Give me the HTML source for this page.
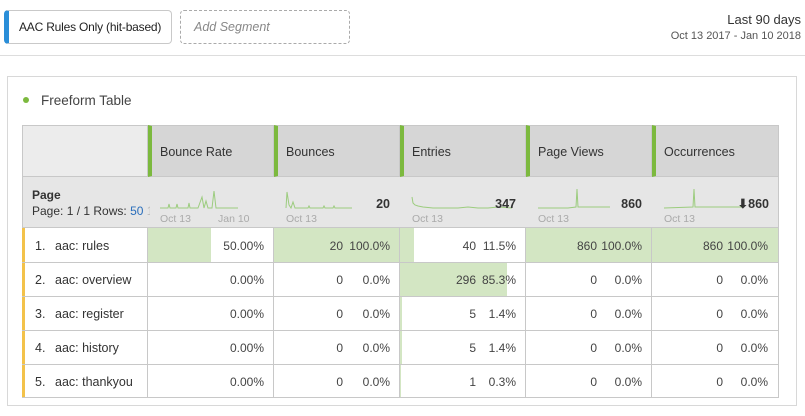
<!DOCTYPE html>
<html><head><meta charset="utf-8"><style>
*{box-sizing:border-box;margin:0;padding:0}
body{width:805px;height:416px;background:#fff;font-family:"Liberation Sans",sans-serif;color:#333;position:relative;overflow:hidden}
.a{position:absolute}
.cell{position:absolute;border-right:1px solid #c8c8c8;border-bottom:1px solid #c8c8c8;font-size:12.5px}
.hd{background:#d6d6d6;border-left:4px solid #7cb93e}
.g{position:absolute;background:#d3e6c3}
</style></head><body>
<div class="a" style="left:4px;top:10px;width:168px;height:34px;border:1px solid #c9c9c9;border-left:5px solid #2a8ed8;border-radius:4px;font-size:12px;line-height:32px;padding-left:10px;color:#222;white-space:nowrap;overflow:hidden;letter-spacing:-0.2px">AAC Rules Only (hit-based)</div>
<div class="a" style="left:180px;top:10px;width:170px;height:34px;border:1px dashed #aaa;border-radius:4px;font-size:12.5px;line-height:32px;padding-left:13px;color:#888;font-style:italic">Add Segment</div>
<div class="a" style="right:4px;top:12px;font-size:13px;color:#333;text-align:right">Last 90 days</div>
<div class="a" style="right:4px;top:30px;font-size:11px;color:#555;text-align:right">Oct 13 2017 - Jan 10 2018</div>
<div class="a" style="left:0;top:55px;width:805px;height:1px;background:#ddd"></div>
<div class="a" style="left:7px;top:76px;width:790px;height:330px;border:1px solid #d8d8d8"></div>
<div class="a" style="left:23px;top:97px;width:6px;height:6px;border-radius:3px;background:#7cb93e"></div>
<div class="a" style="left:41px;top:93px;font-size:13.5px;color:#444">Freeform Table</div>

<div class="a" style="left:22px;top:125px;width:757px;height:273px;border-left:1px solid #c8c8c8;border-top:1px solid #c8c8c8"></div>
<div class="cell" style="left:22px;top:125px;width:126px;height:52px;background:#ececec;border-left:1px solid #c8c8c8;border-top:1px solid #c8c8c8"></div>
<div class="cell hd" style="left:148px;top:125px;width:126px;height:52px;border-top:1px solid #c8c8c8;padding:19px 0 0 8px">Bounce Rate</div>
<div class="cell hd" style="left:274px;top:125px;width:126px;height:52px;border-top:1px solid #c8c8c8;padding:19px 0 0 8px">Bounces</div>
<div class="cell hd" style="left:400px;top:125px;width:126px;height:52px;border-top:1px solid #c8c8c8;padding:19px 0 0 8px">Entries</div>
<div class="cell hd" style="left:526px;top:125px;width:126px;height:52px;border-top:1px solid #c8c8c8;padding:19px 0 0 8px">Page Views</div>
<div class="cell hd" style="left:652px;top:125px;width:127px;height:52px;border-top:1px solid #c8c8c8;padding:19px 0 0 8px">Occurrences</div>

<div class="a" style="left:22px;top:177px;width:757px;height:51px;background:#e6e6e6;border-left:1px solid #c8c8c8;border-right:1px solid #c8c8c8;border-bottom:1px solid #c8c8c8"></div>
<div class="a" style="left:32px;top:188px;font-size:12px;font-weight:bold;color:#333">Page</div>
<div class="a" style="left:32px;top:204px;width:118px;font-size:12px;color:#333;white-space:nowrap;overflow:hidden">Page: 1 / 1 Rows: <span style="color:#2a6ebb">50</span> <span style="color:#bbb">1·</span></div>
<svg class="a" style="left:148px;top:177px" width="631" height="51">
<g fill="none" stroke="#9ccc7e" stroke-width="1">
<polyline points="12,31 20,31 21,27 22,31 28,31 29,27 30,31 40,31 41,26 42,31 50,31 54,20 56,31 58,24 60,31 64,31 66,14 68,31 90,31"/>
<polyline points="138,31 139,15 141,28 143,31 145,25 147,31 160,31 161,29 162,31 175,31 176,29 177,31 185,31 186,29 187,31 204,31"/>
<polyline points="264,20 265,26 267,28 270,29 275,30 285,31 300,31 310,31 320,30 330,31 340,31 350,30 364,31"/>
<polyline points="390,31 420,31 428,30 429,12 430,30 462,30"/>
<polyline points="516,31 545,30 546,12 547,30 594,30"/>
</g>
<g font-family="Liberation Sans" font-size="10.5" fill="#aaa">
<text x="12" y="45">Oct 13</text><text x="70" y="45">Jan 10</text>
<text x="138" y="45">Oct 13</text><text x="264" y="45">Oct 13</text>
<text x="390" y="45">Oct 13</text><text x="516" y="45">Oct 13</text>
</g>
<g font-family="Liberation Sans" font-size="12.5" font-weight="bold" fill="#333" text-anchor="end">
<text x="242" y="31">20</text><text x="368" y="31">347</text><text x="494" y="31">860</text><text x="621" y="31">⬇860</text>
</g>
</svg>

<div class="a" style="left:22px;top:228px;width:3px;height:170px;background:#f3c24a"></div>
<div class="g" style="left:148px;top:228px;width:63px;height:35px"></div>
<div class="g" style="left:274px;top:228px;width:126px;height:35px"></div>
<div class="g" style="left:400px;top:228px;width:14px;height:35px"></div>
<div class="g" style="left:526px;top:228px;width:126px;height:35px"></div>
<div class="g" style="left:652px;top:228px;width:127px;height:35px"></div>
<div class="g" style="left:400px;top:263px;width:107px;height:34px"></div>
<div class="g" style="left:400px;top:297px;width:2px;height:34px"></div>
<div class="g" style="left:400px;top:331px;width:2px;height:34px"></div>
<div class="g" style="left:400px;top:365px;width:1px;height:33px"></div>
<svg class="a" style="left:0;top:0" width="805" height="416">
<g stroke="#c8c8c8" stroke-width="1">
<line x1="22" y1="262.5" x2="779" y2="262.5"/><line x1="22" y1="296.5" x2="779" y2="296.5"/>
<line x1="22" y1="330.5" x2="779" y2="330.5"/><line x1="22" y1="364.5" x2="779" y2="364.5"/>
<line x1="22" y1="397.5" x2="779" y2="397.5"/>
<line x1="147.5" y1="228" x2="147.5" y2="398"/><line x1="273.5" y1="228" x2="273.5" y2="398"/>
<line x1="399.5" y1="228" x2="399.5" y2="398"/><line x1="525.5" y1="228" x2="525.5" y2="398"/>
<line x1="651.5" y1="228" x2="651.5" y2="398"/><line x1="778.5" y1="228" x2="778.5" y2="398"/>
</g>
<g font-family="Liberation Sans" font-size="12.5" fill="#333">
<text x="35" y="250">1.</text><text x="55" y="250">aac: rules</text>
<text x="35" y="284">2.</text><text x="55" y="284">aac: overview</text>
<text x="35" y="318">3.</text><text x="55" y="318">aac: register</text>
<text x="35" y="352">4.</text><text x="55" y="352">aac: history</text>
<text x="35" y="386">5.</text><text x="55" y="386">aac: thankyou</text>
</g>
<g font-family="Liberation Sans" font-size="12" fill="#444" text-anchor="end">
<text x="264" y="250">50.00%</text><text x="264" y="284">0.00%</text><text x="264" y="318">0.00%</text><text x="264" y="352">0.00%</text><text x="264" y="386">0.00%</text>
<text x="343" y="250">20</text><text x="390" y="250">100.0%</text>
<text x="343" y="284">0</text><text x="390" y="284">0.0%</text>
<text x="343" y="318">0</text><text x="390" y="318">0.0%</text>
<text x="343" y="352">0</text><text x="390" y="352">0.0%</text>
<text x="343" y="386">0</text><text x="390" y="386">0.0%</text>
<text x="476" y="250">40</text><text x="516" y="250">11.5%</text>
<text x="476" y="284">296</text><text x="516" y="284">85.3%</text>
<text x="476" y="318">5</text><text x="516" y="318">1.4%</text>
<text x="476" y="352">5</text><text x="516" y="352">1.4%</text>
<text x="476" y="386">1</text><text x="516" y="386">0.3%</text>
<text x="597" y="250">860</text><text x="642" y="250">100.0%</text>
<text x="597" y="284">0</text><text x="642" y="284">0.0%</text>
<text x="597" y="318">0</text><text x="642" y="318">0.0%</text>
<text x="597" y="352">0</text><text x="642" y="352">0.0%</text>
<text x="597" y="386">0</text><text x="642" y="386">0.0%</text>
<text x="723" y="250">860</text><text x="768" y="250">100.0%</text>
<text x="723" y="284">0</text><text x="768" y="284">0.0%</text>
<text x="723" y="318">0</text><text x="768" y="318">0.0%</text>
<text x="723" y="352">0</text><text x="768" y="352">0.0%</text>
<text x="723" y="386">0</text><text x="768" y="386">0.0%</text>
</g>
</svg>
</body></html>
